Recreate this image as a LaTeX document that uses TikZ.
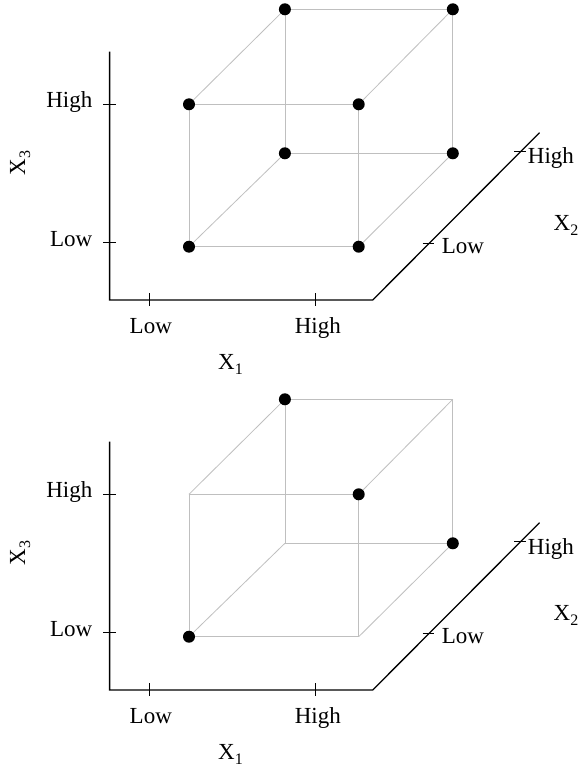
\documentclass[tikz,border=0pt]{standalone}
\usepackage{fontspec}
\setmainfont{Liberation Serif}
\newcommand\lblsub[1]{\raisebox{-5pt}{\fontsize{16}{16}\selectfont #1}}
\tikzset{
  axisline/.style={line width=1.3pt, black, line join=miter},
  cubeline/.style={line width=0.8pt, black!25},
  dotmark/.style={circle, fill=black, inner sep=0pt, minimum size=12pt},
  lbl/.style={inner sep=0pt, font=\fontsize{23}{23}\selectfont},
}
\newcommand\frameaxes[1]{%
  \coordinate (#1-top) at (109.6,51.7);
  \coordinate (#1-o) at (109.6,300);
  \coordinate (#1-e) at (372.7,300);
  \coordinate (#1-d) at (539.5,132.7);
  \draw[axisline] (#1-top) -- (#1-o) -- (#1-e) -- (#1-d);
  % X1 ticks
  \coordinate (#1-x1a) at (149.4,293); \coordinate (#1-x1b) at (149.4,306);
  \coordinate (#1-x1c) at (315.5,293); \coordinate (#1-x1d) at (315.5,306);
  \draw[axisline] (#1-x1a) -- (#1-x1b);
  \draw[axisline] (#1-x1c) -- (#1-x1d);
  % X3 ticks
  \coordinate (#1-x3a) at (103.3,104.3); \coordinate (#1-x3b) at (116.2,104.3);
  \coordinate (#1-x3c) at (103.3,242.7); \coordinate (#1-x3d) at (116.2,242.7);
  \draw[axisline] (#1-x3a) -- (#1-x3b);
  \draw[axisline] (#1-x3c) -- (#1-x3d);
  % X2 ticks
  \coordinate (#1-x2a) at (422.7,243.3); \coordinate (#1-x2b) at (434.2,243.3);
  \coordinate (#1-x2c) at (514.3,151.7); \coordinate (#1-x2d) at (525.8,151.7);
  \draw[axisline] (#1-x2a) -- (#1-x2b);
  \draw[axisline] (#1-x2c) -- (#1-x2d);
  % labels
  \node[lbl, anchor=base east] (#1-x3high) at (92.5,107.3) {High};
  \node[lbl, anchor=base east] (#1-x3low) at (92.5,246.7) {Low};
  \node[lbl, anchor=base] (#1-x1low) at (150.8,333.3) {Low};
  \node[lbl, anchor=base] (#1-x1high) at (317.8,333.3) {High};
  \node[lbl, anchor=base west] (#1-x2high) at (527.7,164) {High};
  \node[lbl, anchor=base west] (#1-x2low) at (441.7,253.3) {Low};
  \node[lbl, anchor=base] (#1-x1) at (230.5,369) {X\lblsub{1}};
  \node[lbl, anchor=base west] (#1-x2) at (553.5,230) {X\lblsub{2}};
  \node[lbl, anchor=base, rotate=90] (#1-x3) at (25,163) {X\lblsub{3}};
  % cube corners
  \coordinate (#1-fbl) at (189,246.7);
  \coordinate (#1-fbr) at (358.7,246.7);
  \coordinate (#1-ftl) at (189,104.3);
  \coordinate (#1-ftr) at (358.7,104.3);
  \coordinate (#1-bbl) at (284.9,153.3);
  \coordinate (#1-bbr) at (452.8,153.3);
  \coordinate (#1-btl) at (284.9,9.3);
  \coordinate (#1-btr) at (452.8,9.3);
  \draw[cubeline] (#1-fbl) -- (#1-fbr) -- (#1-ftr) -- (#1-ftl) -- cycle;
  \draw[cubeline] (#1-bbl) -- (#1-bbr) -- (#1-btr) -- (#1-btl) -- cycle;
  \draw[cubeline] (#1-fbl) -- (#1-bbl);
  \draw[cubeline] (#1-fbr) -- (#1-bbr);
  \draw[cubeline] (#1-ftl) -- (#1-btl);
  \draw[cubeline] (#1-ftr) -- (#1-btr);
}
\begin{document}
\begin{tikzpicture}[x=1pt,y=-1pt]
\useasboundingbox[fill=white] (0,0) rectangle (579,767);
\begin{scope}
  \frameaxes{t}
  \node[dotmark] (t-d1) at (t-fbl) {};
  \node[dotmark] (t-d2) at (t-fbr) {};
  \node[dotmark] (t-d3) at (t-ftl) {};
  \node[dotmark] (t-d4) at (t-ftr) {};
  \node[dotmark] (t-d5) at (t-bbl) {};
  \node[dotmark] (t-d6) at (t-bbr) {};
  \node[dotmark] (t-d7) at (t-btl) {};
  \node[dotmark] (t-d8) at (t-btr) {};
\end{scope}
\begin{scope}[shift={(0,390)}]
  \frameaxes{b}
  \node[dotmark] (b-d1) at (b-fbl) {};
  \node[dotmark] (b-d4) at (b-ftr) {};
  \node[dotmark] (b-d6) at (b-bbr) {};
  \node[dotmark] (b-d7) at (b-btl) {};
\end{scope}
\end{tikzpicture}
\end{document}
